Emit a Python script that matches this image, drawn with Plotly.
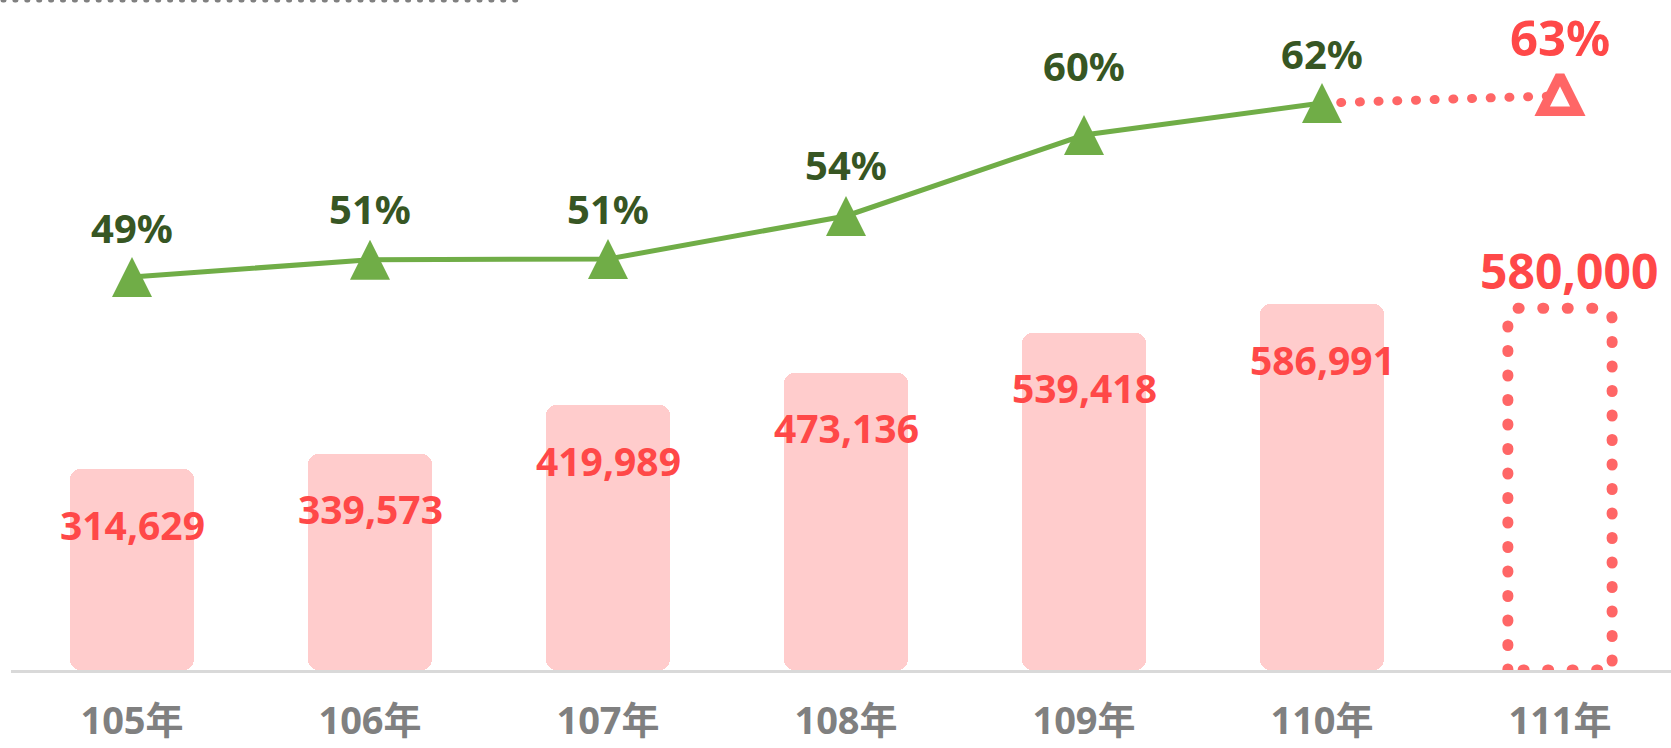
import plotly.graph_objects as go

# ---------------- data ----------------
years = ["105年", "106年", "107年", "108年", "109年", "110年", "111年"]
students = [314629, 339573, 419989, 473136, 539418, 586991]
target_students = 580000
rates = [49.4, 50.7, 50.75, 53.98, 60.05, 62.45]
rate_labels = ["49%", "51%", "51%", "54%", "60%", "62%"]
target_rate = 63
target_rate_label = "63%"

# ---------------- style / layout constants ----------------
FONT = "Noto Sans, Noto Sans CJK TC, sans-serif"
BAR_COLOR = "#FFCCCC"
RED_TEXT = "#FF4848"
RED_DOT = "#FF6666"
GREEN = "#70AD47"
DARK_GREEN = "#375623"
GRAY = "#808080"

Y_MIN, Y_MAX = -17164, 1088812          # bar axis
Y2_RANGE = [19.92, 70.18]               # rate axis (line)
Y3_RANGE = [18.42, 68.68]               # rate axis for markers (apex offset)
X_RANGE = [-0.5084, 6.4664]
BAR_W = 0.521
label_up = [50, 51, 51, 51, 70, 50]     # px offsets of rate labels above points

xs = list(range(len(students)))
xt = len(students)

fig = go.Figure()

fig.add_trace(go.Bar(
    x=xs, y=[v - Y_MIN for v in students], base=Y_MIN, width=BAR_W,
    marker=dict(color=BAR_COLOR, cornerradius=10, line=dict(width=0)),
    hoverinfo="skip", showlegend=False))

fig.add_trace(go.Scatter(
    x=xs, y=rates, yaxis="y2", mode="lines",
    line=dict(color=GREEN, width=5), hoverinfo="skip", showlegend=False))

fig.add_trace(go.Scatter(
    x=[xs[-1], xt], y=[rates[-1], target_rate], yaxis="y2", mode="lines",
    line=dict(color=RED_DOT, width=9, dash="1px,17.7px"),
    hoverinfo="skip", showlegend=False))

fig.add_trace(go.Scatter(
    x=xs, y=rates, yaxis="y3", mode="markers",
    marker=dict(symbol="arrow-up", size=40, color=GREEN, line=dict(width=0)),
    hoverinfo="skip", showlegend=False))

fig.add_trace(go.Scatter(
    x=[xt], y=[target_rate], yaxis="y3", mode="markers",
    marker=dict(symbol="arrow-up", size=35.5, color="white",
                line=dict(color=RED_DOT, width=9.6)),
    hoverinfo="skip", showlegend=False))

annotations = []
for i, v in enumerate(students):
    annotations.append(dict(
        x=i, y=v, xref="x", yref="y", yshift=-55, yanchor="middle",
        text=f"{v:,}", showarrow=False,
        font=dict(family=FONT, size=39, color=RED_TEXT, weight="bold")))
for i, (r, lab) in enumerate(zip(rates, rate_labels)):
    annotations.append(dict(
        x=i, y=r, xref="x", yref="y2", yshift=label_up[i], yanchor="middle",
        text=lab, showarrow=False,
        font=dict(family=FONT, size=40, color=DARK_GREEN, weight="bold")))
annotations.append(dict(
    x=xt, y=target_students, xref="x", yref="y", yshift=38, xshift=9,
    yanchor="middle", text=f"{target_students:,}", showarrow=False,
    font=dict(family=FONT, size=48, color=RED_TEXT, weight="bold")))
annotations.append(dict(
    x=xt, y=target_rate, xref="x", yref="y2", yshift=59, yanchor="middle",
    text=target_rate_label, showarrow=False,
    font=dict(family=FONT, size=49, color=RED_TEXT, weight="bold")))

# dotted rounded box for the target bar
hw = 0.219
rx, ry = 0.05, 19800
x0, x1 = xt - hw, xt + hw
y0, y1 = Y_MIN, target_students
box_path = (f"M{x0},{y0} L{x0},{y1 - ry} Q{x0},{y1} {x0 + rx},{y1} "
            f"L{x1 - rx},{y1} Q{x1},{y1} {x1},{y1 - ry} L{x1},{y0} Z")

shapes = [
    dict(type="path", path=box_path, xref="x", yref="y",
         line=dict(color=RED_DOT, width=11, dash="1px,23.5px"),
         fillcolor="rgba(0,0,0,0)", layer="above"),
    dict(type="line", xref="paper", yref="paper",
         x0=-8 / 1660, x1=509 / 1660, y0=1, y1=1,
         line=dict(color=GRAY, width=5, dash="1px,10.9px")),
]

fig.update_layout(
    width=1671, height=748,
    margin=dict(l=11, r=0, t=0, b=78),
    paper_bgcolor="white", plot_bgcolor="white",
    showlegend=False, bargap=0,
    annotations=annotations, shapes=shapes,
    xaxis=dict(range=X_RANGE, tickvals=list(range(len(years))), ticktext=years,
               showgrid=False, zeroline=False, showline=True, automargin=False,
               linecolor="#D9D9D9", linewidth=3, ticks="",
               ticklabelstandoff=15,
               tickfont=dict(family=FONT, size=38, color=GRAY, weight="bold")),
    yaxis=dict(range=[Y_MIN, Y_MAX], visible=False, showgrid=False,
               zeroline=False, automargin=False),
    yaxis2=dict(range=Y2_RANGE, overlaying="y", visible=False,
                showgrid=False, zeroline=False),
    yaxis3=dict(range=Y3_RANGE, overlaying="y", visible=False,
                showgrid=False, zeroline=False),
)

post = ("document.body.style.margin='0';"
        "document.body.style.overflow='hidden';"
        "var s=document.createElement('style');"
        "s.innerHTML='.shapelayer path, .js-line{stroke-linecap:round;}';"
        "document.head.appendChild(s);")
fig.write_html("out.html", post_script=post, config={"displayModeBar": False})
